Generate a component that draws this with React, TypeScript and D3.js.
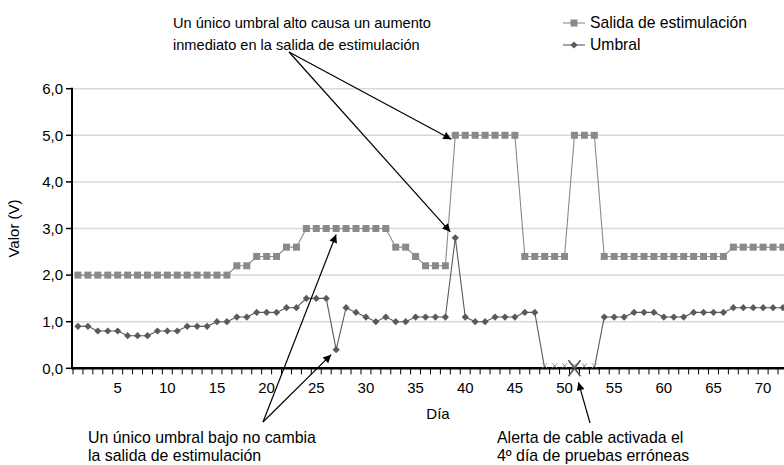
import React from "react";
import * as d3 from "d3";

// ---- data ----
const days: number[] = [
  1, 2, 3, 4, 5, 6, 7, 8, 9, 10, 11, 12, 13, 14, 15, 16, 17, 18, 19, 20, 21, 22, 23, 24,
  25, 26, 27, 28, 29, 30, 31, 32, 33, 34, 35, 36, 37, 38, 39, 40, 41, 42, 43, 44, 45, 46, 47, 48,
  49, 50, 51, 52, 53, 54, 55, 56, 57, 58, 59, 60, 61, 62, 63, 64, 65, 66, 67, 68, 69, 70, 71, 72,
];
const salida: number[] = [
  2.0, 2.0, 2.0, 2.0, 2.0, 2.0, 2.0, 2.0, 2.0, 2.0, 2.0, 2.0, 2.0, 2.0, 2.0, 2.0,
  2.2, 2.2, 2.4, 2.4, 2.4, 2.6, 2.6,
  3.0, 3.0, 3.0, 3.0, 3.0, 3.0, 3.0, 3.0, 3.0,
  2.6, 2.6, 2.4, 2.2, 2.2, 2.2,
  5.0, 5.0, 5.0, 5.0, 5.0, 5.0, 5.0,
  2.4, 2.4, 2.4, 2.4, 2.4,
  5.0, 5.0, 5.0,
  2.4, 2.4, 2.4, 2.4, 2.4, 2.4, 2.4, 2.4, 2.4, 2.4, 2.4, 2.4, 2.4,
  2.6, 2.6, 2.6, 2.6, 2.6, 2.6,
];
const umbral: number[] = [
  0.9, 0.9, 0.8, 0.8, 0.8, 0.7, 0.7, 0.7, 0.8, 0.8, 0.8, 0.9, 0.9, 0.9, 1.0, 1.0,
  1.1, 1.1, 1.2, 1.2, 1.2, 1.3, 1.3, 1.5, 1.5, 1.5, 0.4, 1.3, 1.2, 1.1, 1.0, 1.1,
  1.0, 1.0, 1.1, 1.1, 1.1, 1.1, 2.8, 1.1, 1.0, 1.0, 1.1, 1.1, 1.1, 1.2, 1.2,
  0, 0, 0, 0, 0, 0,
  1.1, 1.1, 1.1, 1.2, 1.2, 1.2, 1.1, 1.1, 1.1, 1.2, 1.2, 1.2, 1.2,
  1.3, 1.3, 1.3, 1.3, 1.3, 1.3,
];
const errorDays: number[] = [48, 49, 50, 51, 52, 53];
const alertDay = 51;
const xTickLabels: number[] = [5, 10, 15, 20, 25, 30, 35, 40, 45, 50, 55, 60, 65, 70];
const yTicks: number[] = [0, 1, 2, 3, 4, 5, 6];
const seriesNames = ["Salida de estimulación", "Umbral"];
const noteHigh = ["Un único umbral alto causa un aumento", "inmediato en la salida de estimulación"];
const noteLow = ["Un único umbral bajo no cambia", "la salida de estimulación"];
const noteAlert = ["Alerta de cable activada el", "4º día de pruebas erróneas"];

const W = 784;
const H = 465;
const FONT = "'Liberation Sans', Arial, Helvetica, sans-serif";
const C_SAL = "#8a8a8a";
const C_UMB = "#5a5a5a";

export default function App() {
  const bandW = 9.93;
  const x = d3
    .scaleBand<number>()
    .domain(days)
    .range([73, 73 + bandW * days.length])
    .padding(0);
  const cx = (d: number) => (x(d) as number) + x.bandwidth() / 2;
  const y = d3.scaleLinear().domain([0, 6]).range([368.3, 88.7]);

  const line = d3
    .line<number>()
    .x((_, i) => cx(days[i]))
    .y((v) => y(v));

  const sq = 7;
  const diamond = (px: number, py: number, r: number) =>
    `M${px},${py - r}L${px + r},${py}L${px},${py + r}L${px - r},${py}Z`;

  const arrowStart1: [number, number] = [289, 52];
  const arrowStart2: [number, number] = [263, 422];
  const arrowStart3: [number, number] = [590, 423];

  const arrows: { from: [number, number]; to: [number, number] }[] = [
    { from: arrowStart1, to: [cx(39) - 4, y(salida[38]) + 4] },
    { from: arrowStart1, to: [cx(39) - 5, y(umbral[38]) - 6] },
    { from: arrowStart2, to: [cx(27), y(salida[26]) + 6] },
    { from: arrowStart2, to: [cx(27) - 5, y(umbral[26]) + 5] },
    { from: arrowStart3, to: [cx(alertDay) + 4, y(0) + 14] },
  ];

  const x0 = 72;
  const xEnd = W;

  return (
    <svg
      width={W}
      height={H}
      style={{ position: "absolute", left: 0, top: 0, background: "#fff" }}
      fontFamily={FONT}
    >
      <defs>
        <marker
          id="ah"
          viewBox="0 0 10 10"
          refX="10"
          refY="5"
          markerWidth="10"
          markerHeight="8"
          markerUnits="userSpaceOnUse"
          orient="auto"
        >
          <path d="M0,0L10,5L0,10Z" fill="#000" />
        </marker>
      </defs>

      {/* gridlines */}
      {yTicks
        .filter((t) => t > 0)
        .map((t) => (
          <line key={"g" + t} x1={x0} x2={xEnd} y1={y(t)} y2={y(t)} stroke="#d9d9d9" strokeWidth={1.5} />
        ))}

      {/* y axis */}
      <line x1={x0} x2={x0} y1={y(6) - 1} y2={y(0) + 1} stroke="#000" strokeWidth={2} />
      {yTicks.map((t) => (
        <g key={"yt" + t}>
          <line x1={x0 - 6} x2={x0} y1={y(t)} y2={y(t)} stroke="#000" strokeWidth={1.5} />
          <text x={63} y={y(t)} dy="0.35em" textAnchor="end" fontSize={15} fill="#000">
            {t.toFixed(1).replace(".", ",")}
          </text>
        </g>
      ))}
      <text
        transform={`translate(19,${(y(0) + y(6)) / 2}) rotate(-90)`}
        textAnchor="middle"
        fontSize={15}
        fill="#000"
      >
        Valor (V)
      </text>

      {/* series lines */}
      <path d={line(salida) || ""} fill="none" stroke={C_SAL} strokeWidth={1.1} />
      <path d={line(umbral) || ""} fill="none" stroke={C_UMB} strokeWidth={1.1} />

      {/* x axis */}
      <line x1={x0} x2={xEnd} y1={y(0)} y2={y(0)} stroke="#000" strokeWidth={2.4} />
      {days.map((d) => (
        <line
          key={"xt" + d}
          x1={x(d) as number}
          x2={x(d) as number}
          y1={y(0)}
          y2={y(0) + 6}
          stroke="#000"
          strokeWidth={1}
        />
      ))}
      {xTickLabels.map((d) => (
        <text key={"xl" + d} x={cx(d)} y={393} textAnchor="middle" fontSize={15} fill="#000">
          {d}
        </text>
      ))}
      <text x={438} y={419} textAnchor="middle" fontSize={15} fill="#000">
        Día
      </text>

      {/* markers */}
      {salida.map((v, i) => (
        <rect key={"s" + i} x={cx(days[i]) - sq / 2} y={y(v) - sq / 2} width={sq} height={sq} fill={C_SAL} />
      ))}
      {umbral.map((v, i) =>
        errorDays.includes(days[i]) ? null : (
          <path key={"u" + i} d={diamond(cx(days[i]), y(v), 3.6)} fill={C_UMB} />
        )
      )}
      {errorDays.map((d) => (
        <path
          key={"e" + d}
          d={`M${cx(d) - 2.5},${y(0) - 5}L${cx(d) + 2.5},${y(0)}M${cx(d) + 2.5},${y(0) - 5}L${cx(d) - 2.5},${y(0)}`}
          stroke="#8a8a8a"
          strokeWidth={1}
          fill="none"
        />
      ))}
      <path
        d={`M${cx(alertDay) - 6},${y(0) - 8}L${cx(alertDay) + 6},${y(0) + 8}M${cx(alertDay) + 6},${y(0) - 8}L${cx(alertDay) - 6},${y(0) + 8}`}
        stroke="#555"
        strokeWidth={1.6}
        fill="none"
      />

      {/* arrows */}
      {arrows.map((a, i) => (
        <line
          key={"a" + i}
          x1={a.from[0]}
          y1={a.from[1]}
          x2={a.to[0]}
          y2={a.to[1]}
          stroke="#000"
          strokeWidth={1.2}
          markerEnd="url(#ah)"
        />
      ))}

      {/* annotations */}
      <text fontSize={14.6} fill="#000">
        {noteHigh.map((t, i) => (
          <tspan key={i} x={173} y={28 + i * 22}>
            {t}
          </tspan>
        ))}
      </text>
      <text fontSize={15.9} fill="#000">
        {noteLow.map((t, i) => (
          <tspan key={i} x={88} y={443 + i * 18}>
            {t}
          </tspan>
        ))}
      </text>
      <text fontSize={15.9} fill="#000">
        {noteAlert.map((t, i) => (
          <tspan key={i} x={497} y={443 + i * 18}>
            {t}
          </tspan>
        ))}
      </text>

      {/* legend */}
      <g>
        <line x1={563} x2={585} y1={23} y2={23} stroke={C_SAL} strokeWidth={1.1} />
        <rect x={574 - sq / 2} y={23 - sq / 2} width={sq} height={sq} fill={C_SAL} />
        <text x={590} y={23} dy="0.35em" fontSize={15.7} fill="#000">
          {seriesNames[0]}
        </text>
        <line x1={563} x2={585} y1={45} y2={45} stroke={C_UMB} strokeWidth={1.1} />
        <path d={diamond(574, 45, 3.6)} fill={C_UMB} />
        <text x={590} y={45} dy="0.35em" fontSize={15.7} fill="#000">
          {seriesNames[1]}
        </text>
      </g>
    </svg>
  );
}
